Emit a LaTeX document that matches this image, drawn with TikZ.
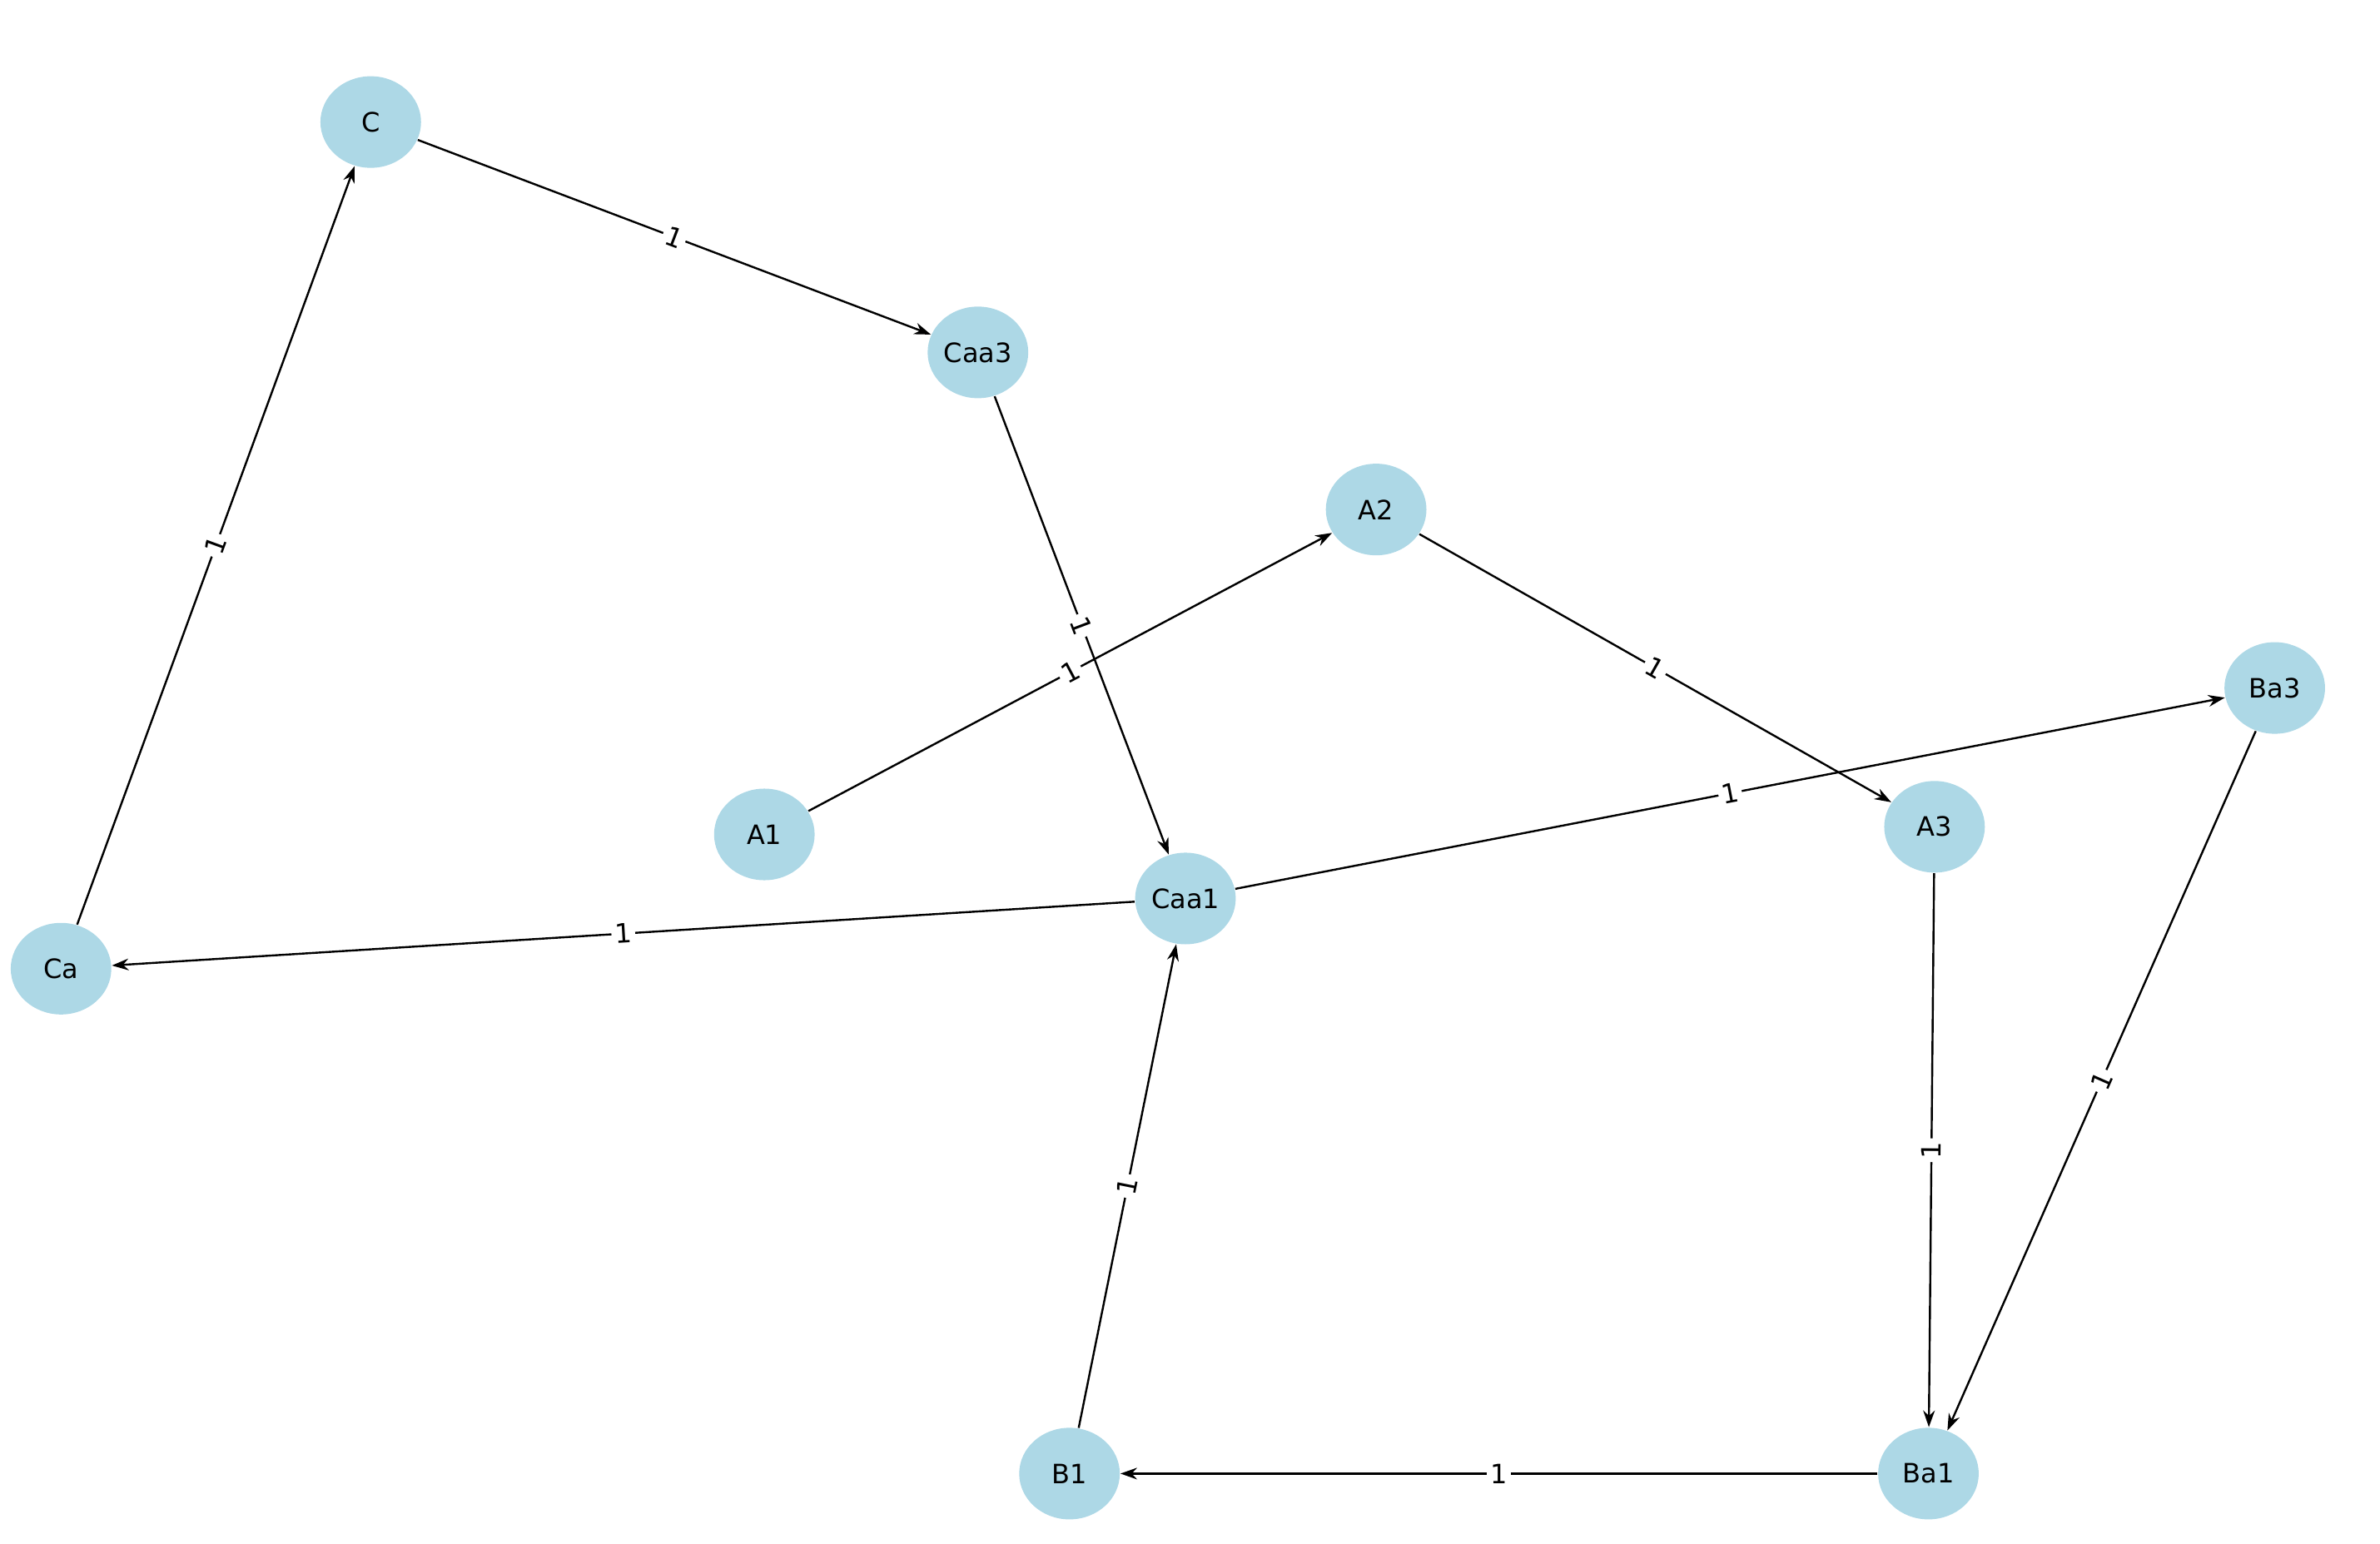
\documentclass[tikz,border=0pt]{standalone}
\usepackage{fontspec}
\setmainfont{DejaVu Sans}
\usetikzlibrary{arrows.meta,shapes.geometric}
\definecolor{lblue}{RGB}{173,216,230}
\begin{document}
\begin{tikzpicture}[x=0.458pt,y=-0.458pt,
  nd/.style={ellipse,fill=lblue,minimum width=30.2pt,minimum height=27.5pt,inner sep=0pt,font=\fontsize{8}{9}\selectfont},
  ed/.style={-{Stealth[length=5pt,width=3.5pt]},line width=0.6pt},
  lb/.style={sloped,midway,fill=white,inner sep=1pt,font=\fontsize{8}{9}\selectfont}]
\useasboundingbox (0,0) rectangle (1560,1012);
\node[nd] (C) at (243,80) {C};
\node[nd] (Caa3) at (641,231) {Caa3};
\node[nd] (A2) at (902,334) {A2};
\node[nd] (Ba3) at (1491,451) {Ba3};
\node[nd] (A1) at (501,547) {A1};
\node[nd] (A3) at (1268,542) {A3};
\node[nd] (Caa1) at (777,589) {Caa1};
\node[nd] (Ca) at (40,635) {Ca};
\node[nd] (B1) at (701,966) {B1};
\node[nd] (Ba1) at (1264,966) {Ba1};
\draw[ed] (C) -- node[lb]{1} (Caa3);
\draw[ed] (Caa3) -- node[lb]{1} (Caa1);
\draw[ed] (A1) -- node[lb]{1} (A2);
\draw[ed] (A2) -- node[lb]{1} (A3);
\draw[ed] (Caa1) -- node[lb]{1} (Ba3);
\draw[ed] (Caa1) -- node[lb]{1} (Ca);
\draw[ed] (Ca) -- node[lb]{1} (C);
\draw[ed] (B1) -- node[lb]{1} (Caa1);
\draw[ed] (A3) -- node[lb]{1} (Ba1);
\draw[ed] (Ba3) -- node[lb]{1} (Ba1);
\draw[ed] (Ba1) -- node[lb]{1} (B1);
\end{tikzpicture}
\end{document}
